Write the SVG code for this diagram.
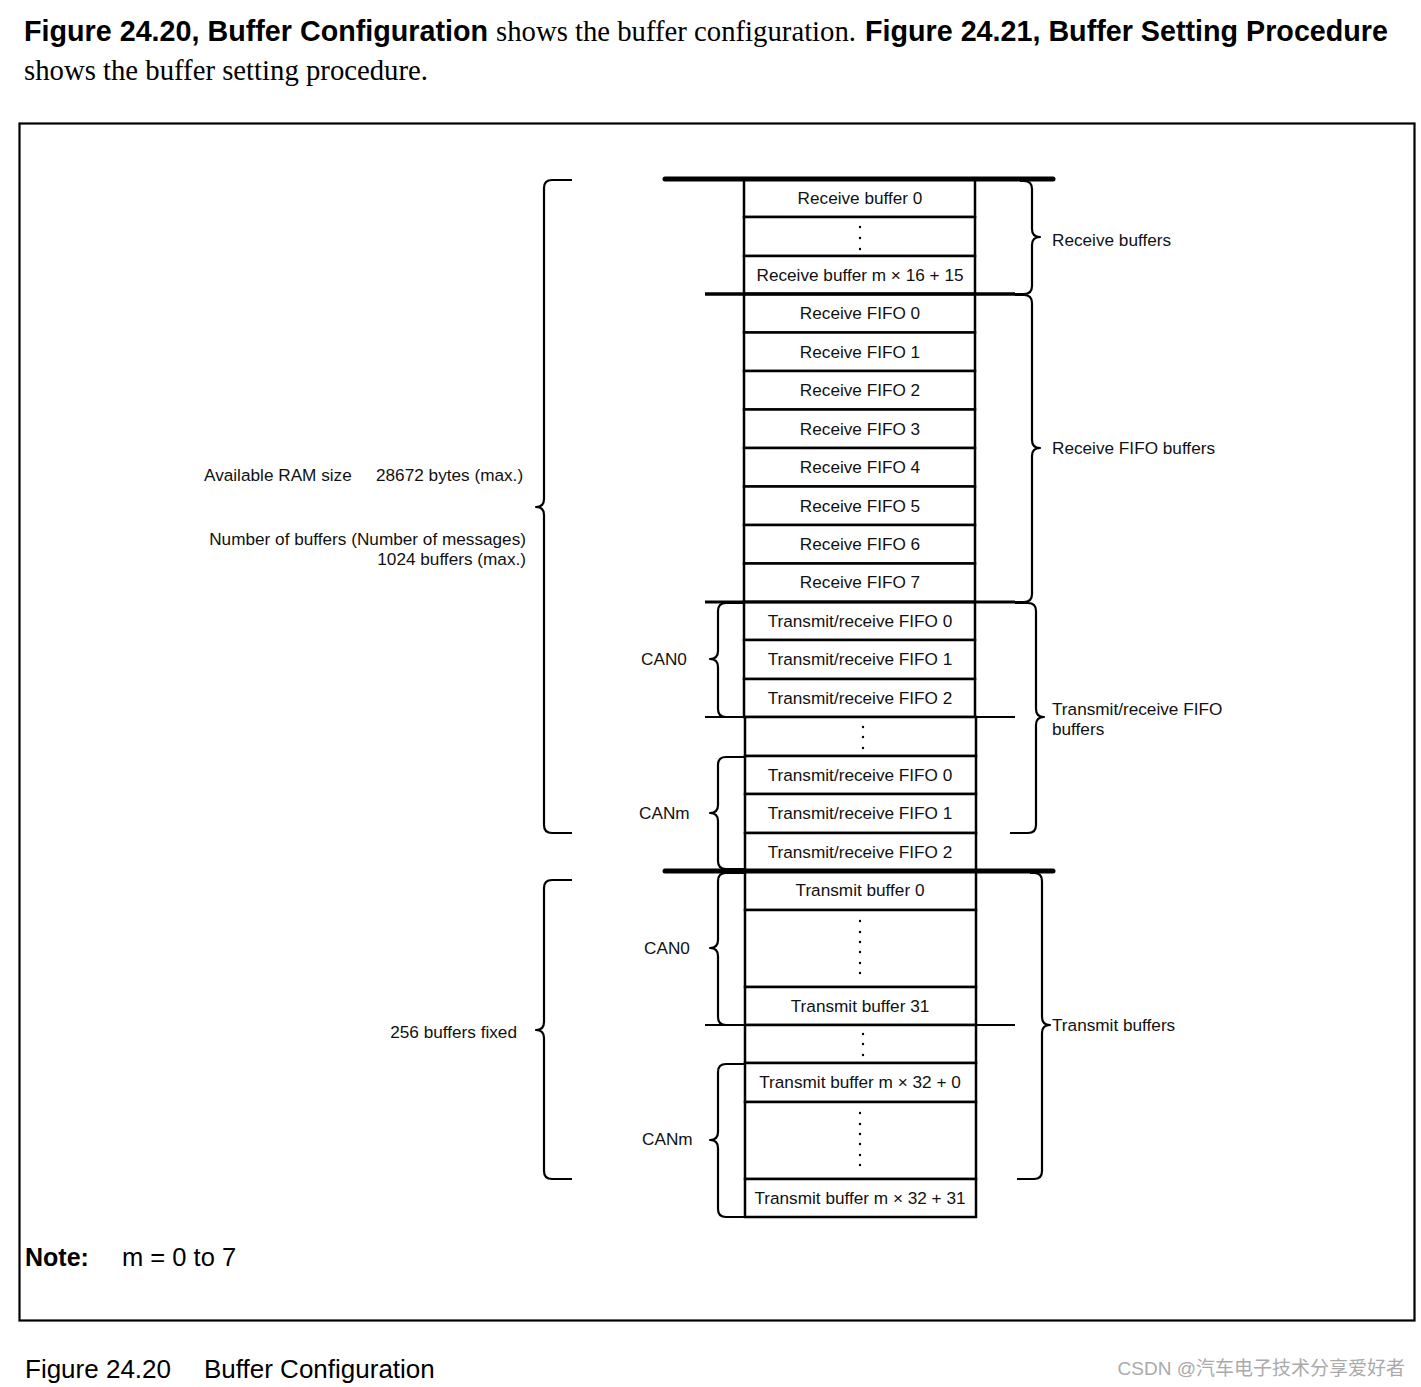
<svg xmlns="http://www.w3.org/2000/svg" width="1421" height="1387" viewBox="0 0 1421 1387">
<style>
.cell{fill:#fff;stroke:#000;stroke-width:2.5}
.ct{font-family:"Liberation Sans",Arial,sans-serif;font-size:17.2px;fill:#111;text-anchor:middle}
.lt{font-family:"Liberation Sans",Arial,sans-serif;font-size:17.2px;fill:#111}
.br{fill:none;stroke:#000;stroke-width:2.2;stroke-linejoin:round}
.dot{fill:#000}
.hb{font-family:"Liberation Sans",Arial,sans-serif;font-weight:bold;font-size:29px;fill:#000}
.hs{font-family:"Liberation Serif","Times New Roman",serif;font-size:29px;fill:#000}
</style>
<rect width="1421" height="1387" fill="#fff"/>
<g id="header">
<text x="24" y="41" class="hb" textLength="464" lengthAdjust="spacingAndGlyphs">Figure 24.20, Buffer Configuration</text>
<text x="496" y="41" class="hs" textLength="360" lengthAdjust="spacingAndGlyphs">shows the buffer configuration.</text>
<text x="865" y="41" class="hb" textLength="523" lengthAdjust="spacingAndGlyphs">Figure 24.21, Buffer Setting Procedure</text>
<text x="24" y="80" class="hs" textLength="404" lengthAdjust="spacingAndGlyphs">shows the buffer setting procedure.</text>
</g>
<rect id="frame" x="19.5" y="123.5" width="1395" height="1197" fill="none" stroke="#000" stroke-width="2.2"/>

<g id="cells">
<g id="rb0"><rect class="cell" x="744" y="179" width="231" height="38"/><text class="ct" x="860" y="204">Receive buffer 0</text></g>
<g id="rbdots"><rect class="cell" x="744" y="217" width="231" height="39"/><circle class="dot" cx="860" cy="227" r="1.2"/><circle class="dot" cx="860" cy="238" r="1.2"/><circle class="dot" cx="860" cy="249" r="1.2"/></g>
<g id="rbm"><rect class="cell" x="744" y="256" width="231" height="38"/><text class="ct" x="860" y="281">Receive buffer m × 16 + 15</text></g>
<g id="rf0"><rect class="cell" x="744" y="294" width="231" height="38.5"/><text class="ct" x="860" y="319">Receive FIFO 0</text></g>
<g id="rf1"><rect class="cell" x="744" y="332.5" width="231" height="38.5"/><text class="ct" x="860" y="358">Receive FIFO 1</text></g>
<g id="rf2"><rect class="cell" x="744" y="371" width="231" height="38.5"/><text class="ct" x="860" y="396">Receive FIFO 2</text></g>
<g id="rf3"><rect class="cell" x="744" y="409.5" width="231" height="38.5"/><text class="ct" x="860" y="435">Receive FIFO 3</text></g>
<g id="rf4"><rect class="cell" x="744" y="448" width="231" height="38.5"/><text class="ct" x="860" y="473">Receive FIFO 4</text></g>
<g id="rf5"><rect class="cell" x="744" y="486.5" width="231" height="38.5"/><text class="ct" x="860" y="512">Receive FIFO 5</text></g>
<g id="rf6"><rect class="cell" x="744" y="525" width="231" height="38.5"/><text class="ct" x="860" y="550">Receive FIFO 6</text></g>
<g id="rf7"><rect class="cell" x="744" y="563.5" width="231" height="38.5"/><text class="ct" x="860" y="588">Receive FIFO 7</text></g>
<g id="trf0a"><rect class="cell" x="744" y="602" width="231" height="38"/><text class="ct" x="860" y="627">Transmit/receive FIFO 0</text></g>
<g id="trf1a"><rect class="cell" x="744" y="640" width="231" height="39"/><text class="ct" x="860" y="665">Transmit/receive FIFO 1</text></g>
<g id="trf2a"><rect class="cell" x="744" y="679" width="231" height="38"/><text class="ct" x="860" y="704">Transmit/receive FIFO 2</text></g>
<g id="trdots"><rect class="cell" x="745" y="717" width="231" height="39"/><circle class="dot" cx="863" cy="727" r="1.2"/><circle class="dot" cx="863" cy="737" r="1.2"/><circle class="dot" cx="863" cy="748" r="1.2"/></g>
<g id="trf0b"><rect class="cell" x="745" y="756" width="231" height="38"/><text class="ct" x="860" y="781">Transmit/receive FIFO 0</text></g>
<g id="trf1b"><rect class="cell" x="745" y="794" width="231" height="39"/><text class="ct" x="860" y="819">Transmit/receive FIFO 1</text></g>
<g id="trf2b"><rect class="cell" x="745" y="833" width="231" height="38"/><text class="ct" x="860" y="858">Transmit/receive FIFO 2</text></g>
<g id="tb0"><rect class="cell" x="745" y="871" width="231" height="39"/><text class="ct" x="860" y="896">Transmit buffer 0</text></g>
<g id="tbdots1"><rect class="cell" x="745" y="910" width="231" height="77"/><circle class="dot" cx="860" cy="921" r="1.2"/><circle class="dot" cx="860" cy="932" r="1.2"/><circle class="dot" cx="860" cy="942" r="1.2"/><circle class="dot" cx="860" cy="952" r="1.2"/><circle class="dot" cx="860" cy="963" r="1.2"/><circle class="dot" cx="860" cy="973" r="1.2"/></g>
<g id="tb31"><rect class="cell" x="745" y="987" width="231" height="38"/><text class="ct" x="860" y="1012">Transmit buffer 31</text></g>
<g id="tbdots2"><rect class="cell" x="745" y="1025" width="231" height="38"/><circle class="dot" cx="863" cy="1034" r="1.2"/><circle class="dot" cx="863" cy="1044" r="1.2"/><circle class="dot" cx="863" cy="1055" r="1.2"/></g>
<g id="tbm0"><rect class="cell" x="745" y="1063" width="231" height="39"/><text class="ct" x="860" y="1088">Transmit buffer m × 32 + 0</text></g>
<g id="tbdots3"><rect class="cell" x="745" y="1102" width="231" height="77"/><circle class="dot" cx="860" cy="1113" r="1.2"/><circle class="dot" cx="860" cy="1124" r="1.2"/><circle class="dot" cx="860" cy="1134" r="1.2"/><circle class="dot" cx="860" cy="1144" r="1.2"/><circle class="dot" cx="860" cy="1155" r="1.2"/><circle class="dot" cx="860" cy="1165" r="1.2"/></g>
<g id="tbm31"><rect class="cell" x="745" y="1179" width="231" height="38"/><text class="ct" x="860" y="1204">Transmit buffer m × 32 + 31</text></g>
</g>

<g id="connectors" stroke="#000" fill="none">
<line x1="665" y1="179" x2="1053" y2="179" stroke-width="5" stroke-linecap="round"/>
<line x1="665" y1="871" x2="1053" y2="871" stroke-width="5" stroke-linecap="round"/>
<line x1="705" y1="294" x2="1015" y2="294" stroke-width="3.5"/>
<line x1="705" y1="602" x2="1015" y2="602" stroke-width="3"/>
<line x1="705" y1="717" x2="1015" y2="717" stroke-width="2"/>
<line x1="705" y1="1025" x2="1015" y2="1025" stroke-width="2"/>
<path class="br" d="M572,180 L552,180 Q544,180 544,188 L544,499 Q544,507 536,507 Q544,507 544,515 L544,825 Q544,833 552,833 L572,833"/>
<path class="br" d="M572,880 L552,880 Q544,880 544,888 L544,1022 Q544,1030 536,1030 Q544,1030 544,1038 L544,1171 Q544,1179 552,1179 L572,1179"/>
<path class="br" d="M1020,181 L1024,181 Q1032,181 1032,189 L1032,229 Q1032,237 1040,237 Q1032,237 1032,245 L1032,286 Q1032,294 1024,294 L1015,294"/>
<path class="br" d="M1015,295 L1024,295 Q1032,295 1032,303 L1032,440 Q1032,448 1040,448 Q1032,448 1032,456 L1032,594 Q1032,602 1024,602 L1015,602"/>
<path class="br" d="M1015,603 L1028,603 Q1036,603 1036,611 L1036,709 Q1036,717 1044,717 Q1036,717 1036,725 L1036,825 Q1036,833 1028,833 L1010,833"/>
<path class="br" d="M1030,873 L1034,873 Q1042,873 1042,881 L1042,1017 Q1042,1025 1050,1025 Q1042,1025 1042,1033 L1042,1171 Q1042,1179 1034,1179 L1017,1179"/>
<path class="br" d="M744,603 L726,603 Q718,603 718,611 L718,651 Q718,659 710,659 Q718,659 718,667 L718,709 Q718,717 726,717 L744,717"/>
<path class="br" d="M744,757 L726,757 Q718,757 718,765 L718,805 Q718,813 710,813 Q718,813 718,821 L718,861 Q718,869 726,869 L744,869"/>
<path class="br" d="M744,873 L726,873 Q718,873 718,881 L718,940 Q718,948 710,948 Q718,948 718,956 L718,1017 Q718,1025 726,1025 L744,1025"/>
<path class="br" d="M744,1064 L726,1064 Q718,1064 718,1072 L718,1132 Q718,1140 710,1140 Q718,1140 718,1148 L718,1209 Q718,1217 726,1217 L744,1217"/>
</g>

<g id="labels">
<text class="lt" x="204" y="481">Available RAM size</text>
<text class="lt" x="376" y="481">28672 bytes (max.)</text>
<text class="lt" x="526" y="545" text-anchor="end">Number of buffers (Number of messages)</text>
<text class="lt" x="526" y="565" text-anchor="end">1024 buffers (max.)</text>
<text class="lt" x="517" y="1038" text-anchor="end">256 buffers fixed</text>
<text class="lt" x="641" y="665">CAN0</text>
<text class="lt" x="639" y="819">CANm</text>
<text class="lt" x="644" y="954">CAN0</text>
<text class="lt" x="642" y="1145">CANm</text>
<text class="lt" x="1052" y="246">Receive buffers</text>
<text class="lt" x="1052" y="454">Receive FIFO buffers</text>
<text class="lt" x="1052" y="715">Transmit/receive FIFO</text>
<text class="lt" x="1052" y="735">buffers</text>
<text class="lt" x="1052" y="1031">Transmit buffers</text>
</g>

<g id="note">
<text x="25" y="1266" font-family="Liberation Sans, Arial, sans-serif" font-weight="bold" font-size="25" fill="#000">Note:</text>
<text x="122" y="1266" font-family="Liberation Sans, Arial, sans-serif" font-size="25.5" fill="#000">m = 0 to 7</text>
</g>
<g id="caption">
<text x="25" y="1378" font-family="Liberation Sans, Arial, sans-serif" font-size="26" fill="#000">Figure 24.20</text>
<text x="204" y="1378" font-family="Liberation Sans, Arial, sans-serif" font-size="26" fill="#000">Buffer Configuration</text>
<text x="1405" y="1375" text-anchor="end" font-family="Liberation Sans, 'Noto Sans CJK SC', sans-serif" font-size="19" fill="#aaa">CSDN @汽车电子技术分享爱好者</text>
</g>
</svg>
